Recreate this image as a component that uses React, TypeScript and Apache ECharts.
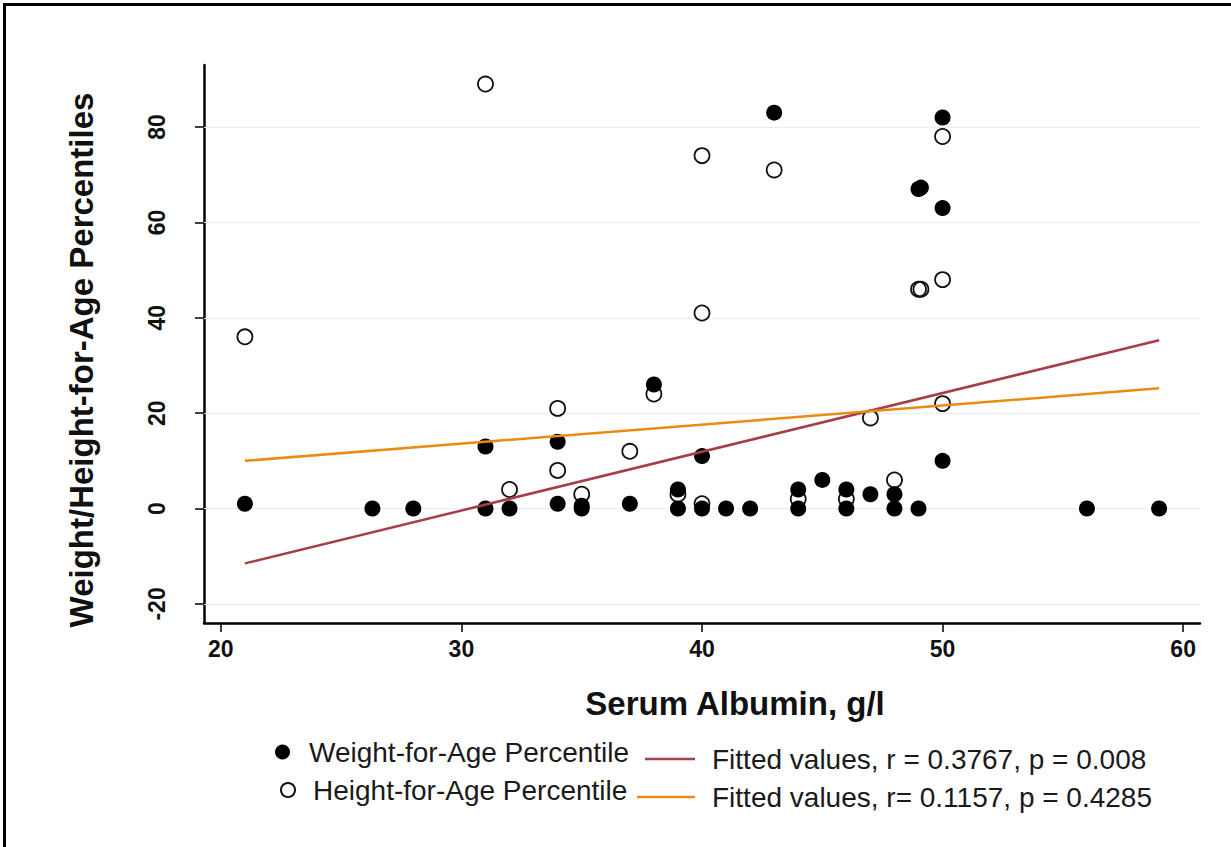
import React, { useEffect, useRef } from "react";
import * as echarts from "echarts";

// Weight-for-Age percentile vs serum albumin (filled markers)
const weightAlbumin = [21, 26.3, 28, 31, 31, 32, 34, 34, 35, 35, 37, 38, 39, 39, 40, 40, 41, 42, 43, 44, 44, 45, 46, 46, 47, 48, 48, 49, 49, 49.1, 50, 50, 50, 56, 59];
const weightPct = [1, 0, 0, 0, 13, 0, 1, 14, 0, 0.6, 1, 26, 0, 4, 0, 11, 0, 0, 83, 0, 4, 6, 0, 4, 3, 0, 3, 0, 67, 67.3, 82, 63, 10, 0, 0];

// Height-for-Age percentile vs serum albumin (hollow markers)
const heightAlbumin = [21, 31, 32, 34, 34, 35, 37, 38, 39, 40, 40, 40, 43, 44, 46, 47, 48, 49, 49.1, 50, 50, 50];
const heightPct = [36, 89, 4, 21, 8, 3, 12, 24, 3, 74, 41, 1, 71, 2, 2, 19, 6, 46, 46, 78, 48, 22];

// Fitted lines (end points)
const fitAlbumin = [21, 59];
const fitWeight = [-11.5, 35.3];
const fitHeight = [10, 25.2];

const xTicks = [20, 30, 40, 50, 60];
const yTicks = [-20, 0, 20, 40, 60, 80];

const NAME_W = "Weight-for-Age Percentile";
const NAME_H = "Height-for-Age Percentile";
const NAME_FW = "Fitted values, r = 0.3767, p = 0.008";
const NAME_FH = "Fitted values, r= 0.1157, p = 0.4285";

const FONT = "'Liberation Sans', Arial, Helvetica, sans-serif";
const RED = "#a63d47";
const ORANGE = "#ea8c12";

export default function App() {
  const ref = useRef<HTMLDivElement>(null);

  useEffect(() => {
    if (!ref.current) return;
    const chart = echarts.init(ref.current, undefined, { renderer: "svg" });

    const legendText = (size: number, pad: number) => ({
      fontFamily: FONT,
      fontSize: size,
      color: "#1a1a1a",
      padding: [0, 0, 0, pad],
    });

    const option: any = {
      animation: false,
      backgroundColor: "#ffffff",
      grid: { left: 204, right: 31, top: 65, bottom: 224, containLabel: false },
      xAxis: {
        type: "value",
        min: 19.3,
        max: 60.7,
        name: "Serum Albumin, g/l",
        nameLocation: "middle",
        nameGap: 64,
        nameTextStyle: {
          fontFamily: FONT,
          fontWeight: "bold",
          fontSize: 33,
          color: "#111",
          padding: [0, 0, 0, 66],
        },
        axisLine: { show: true, onZero: false, lineStyle: { color: "#000", width: 2.5 } },
        axisTick: { show: true, customValues: xTicks, length: 9, lineStyle: { color: "#000", width: 1.5 } },
        axisLabel: {
          customValues: xTicks,
          fontFamily: FONT,
          fontWeight: "bold",
          fontSize: 23,
          color: "#111",
          margin: 14,
        },
        splitLine: { show: false },
      },
      yAxis: {
        type: "value",
        min: -24,
        max: 93,
        name: "Weight/Height-for-Age Percentiles",
        nameLocation: "middle",
        nameRotate: 90,
        nameGap: 106,
        nameTextStyle: {
          fontFamily: FONT,
          fontWeight: "bold",
          fontSize: 33,
          color: "#111",
          padding: [0, 32, 0, 0],
        },
        axisLine: { show: true, onZero: false, lineStyle: { color: "#000", width: 2.5 } },
        axisTick: { show: true, customValues: yTicks, length: 9, lineStyle: { color: "#000", width: 1.5 } },
        axisLabel: {
          customValues: yTicks,
          rotate: 90,
          fontFamily: FONT,
          fontWeight: "bold",
          fontSize: 23,
          color: "#111",
          margin: 36,
        },
        splitLine: { show: false },
      },
      legend: [
        {
          left: 275, top: 738, padding: 0, selectedMode: false,
          itemWidth: 15, itemHeight: 15,
          data: [NAME_W], textStyle: legendText(28, 14),
        },
        {
          left: 645, top: 745, padding: 0, selectedMode: false,
          itemWidth: 50, itemHeight: 2.5,
          data: [{ name: NAME_FW, icon: "rect" }], textStyle: legendText(28, 12),
        },
        {
          left: 280, top: 776, padding: 0, selectedMode: false,
          itemWidth: 14, itemHeight: 14,
          data: [NAME_H], textStyle: legendText(28, 13),
        },
        {
          left: 637, top: 783, padding: 0, selectedMode: false,
          itemWidth: 58, itemHeight: 2.5,
          data: [{ name: NAME_FH, icon: "rect" }], textStyle: legendText(28, 12),
        },
      ],
      graphic: [
        { type: "rect", shape: { x: 3, y: 3, width: 1228, height: 3 }, style: { fill: "#000" }, silent: true },
        { type: "rect", shape: { x: 3, y: 3, width: 3, height: 844 }, style: { fill: "#000" }, silent: true },
      ],
      series: [
        {
          name: NAME_H,
          type: "scatter",
          z: 2,
          symbol: "circle",
          symbolSize: 15,
          itemStyle: { color: "rgba(255,255,255,0)", borderColor: "#111", borderWidth: 1.8, opacity: 1 },
          data: heightAlbumin.map((x, i) => [x, heightPct[i]]),
          markLine: {
            silent: true,
            z: 1,
            symbol: ["none", "none"],
            label: { show: false },
            lineStyle: { color: "#e6eff1", type: "solid", width: 1.2 },
            data: yTicks.map((v) => ({ yAxis: v })),
          },
        },
        {
          name: NAME_W,
          type: "scatter",
          z: 3,
          symbol: "circle",
          symbolSize: 16,
          itemStyle: { color: "#000", opacity: 1 },
          data: weightAlbumin.map((x, i) => [x, weightPct[i]]),
        },
        {
          name: NAME_FW,
          type: "line",
          z: 4,
          symbol: "none",
          lineStyle: { color: RED, width: 2.5 },
          itemStyle: { color: RED },
          data: fitAlbumin.map((x, i) => [x, fitWeight[i]]),
        },
        {
          name: NAME_FH,
          type: "line",
          z: 4,
          symbol: "none",
          lineStyle: { color: ORANGE, width: 2.5 },
          itemStyle: { color: ORANGE },
          data: fitAlbumin.map((x, i) => [x, fitHeight[i]]),
        },
      ],
    };

    chart.setOption(option);
    return () => chart.dispose();
  }, []);

  return (
    <div
      ref={ref}
      style={{ position: "fixed", left: 0, top: 0, width: 1231, height: 847, background: "#fff" }}
    />
  );
}
